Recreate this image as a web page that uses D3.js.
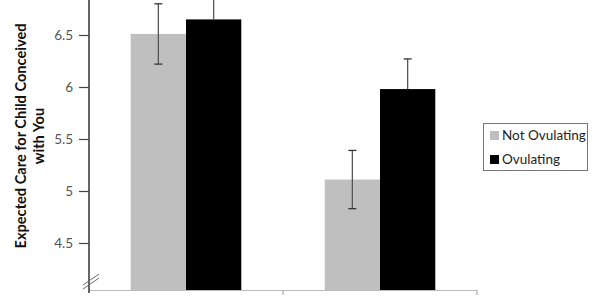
<!DOCTYPE html>
<html><head><meta charset="utf-8">
<script src="https://cdn.jsdelivr.net/npm/d3@7"></script>
<style>html,body{margin:0;padding:0;background:#fff;overflow:hidden}svg{display:block}</style>
</head><body>
<svg id="c" width="600" height="300"></svg>
<script>
const categories = ["Charismatic Man", "Reliable Man"];
const seriesNames = ["Not Ovulating", "Ovulating"];
const notOvulating = [6.51, 5.11];
const ovulating = [6.65, 5.98];
const notOvulatingErr = [0.29, 0.28];
const ovulatingErr = [0.29, 0.29];
const yTicks = [4.5, 5, 5.5, 6, 6.5];
const yTickLabels = ["4.5", "5", "5.5", "6", "6.5"];
const colors = ["#bfbfbf", "#000000"];

const svg = d3.select("#c");
const font = "Lato, 'Open Sans', sans-serif";
const axisX = 89, axisRight = 477, baseY = 290;

const y = d3.scaleLinear().domain([4.5, 6.5]).range([243, 35]);
const x0 = d3.scaleBand().domain(categories).range([axisX, axisRight]).paddingInner(0.43).paddingOuter(0.215);
const x1 = d3.scaleBand().domain(seriesNames).range([0, x0.bandwidth()]).padding(0);

const rows = categories.map((c, i) => ({
  cat: c,
  vals: [
    {s: seriesNames[0], v: notOvulating[i], e: notOvulatingErr[i], full: true},
    {s: seriesNames[1], v: ovulating[i], e: ovulatingErr[i], full: false}
  ]
}));

const g = svg.append("g");
const grp = g.selectAll("g.cat").data(rows).join("g").attr("transform", d => `translate(${x0(d.cat)},0)`);
grp.selectAll("rect").data(d => d.vals).join("rect")
  .attr("x", d => x1(d.s)).attr("width", x1.bandwidth())
  .attr("y", d => y(d.v)).attr("height", d => baseY - y(d.v))
  .attr("fill", (d, i) => colors[i]);

// error bars
grp.selectAll("g.err").data(d => d.vals).join("g").each(function(d) {
  const cx = x1(d.s) + x1.bandwidth() / 2;
  const gg = d3.select(this);
  const lo = d.full ? d.v - d.e : d.v;
  gg.append("line").attr("x1", cx).attr("x2", cx).attr("y1", y(d.v + d.e)).attr("y2", y(lo))
    .attr("stroke", "#555").attr("stroke-width", 1.3);
  gg.append("line").attr("x1", cx - 4).attr("x2", cx + 4).attr("y1", y(d.v + d.e)).attr("y2", y(d.v + d.e))
    .attr("stroke", "#333").attr("stroke-width", 1.3);
  if (d.full) gg.append("line").attr("x1", cx - 4).attr("x2", cx + 4).attr("y1", y(lo)).attr("y2", y(lo))
    .attr("stroke", "#333").attr("stroke-width", 1.3);
});

// x axis
svg.append("line").attr("x1", axisX).attr("x2", axisRight).attr("y1", baseY + 0.5).attr("y2", baseY + 0.5)
  .attr("stroke", "#bbb").attr("stroke-width", 1);
const xBounds = [x0(categories[1]) - x0.step() * x0.paddingInner() / 2, axisRight];
svg.selectAll("line.xt").data(xBounds).join("line")
  .attr("x1", d => d).attr("x2", d => d).attr("y1", baseY).attr("y2", baseY + 5)
  .attr("stroke", "#999").attr("stroke-width", 1);
svg.selectAll("text.xl").data(categories).join("text")
  .attr("x", d => x0(d) + x0.bandwidth() / 2).attr("y", 309)
  .attr("text-anchor", "middle").attr("font-family", font).attr("font-size", 12).attr("font-weight", "bold")
  .attr("fill", "#777").text(d => d);

// y axis
svg.append("line").attr("x1", axisX).attr("x2", axisX).attr("y1", 0).attr("y2", 293)
  .attr("stroke", "#333").attr("stroke-width", 1.5);
const yAxis = d3.axisLeft(y).tickValues(yTicks).tickFormat((d, i) => yTickLabels[i]).tickSize(10).tickPadding(6);
const ya = svg.append("g").attr("transform", `translate(${axisX},0)`).call(yAxis);
ya.select(".domain").remove();
ya.selectAll(".tick line").attr("stroke", "#444").attr("stroke-width", 1.2);
ya.selectAll(".tick text").attr("font-family", font).attr("font-size", 13.5).attr("fill", "#555");

// axis break
[0, 4].forEach(o => {
  svg.append("line").attr("x1", 83).attr("y1", 285 + o).attr("x2", 99).attr("y2", 274 + o)
    .attr("stroke", "#666").attr("stroke-width", 1);
});

// y title
const yt = svg.append("text").attr("transform", "translate(0,136) rotate(-90)")
  .attr("text-anchor", "middle").attr("font-family", font).attr("font-size", 14.6).attr("font-weight", "bold").attr("fill", "#111");
yt.append("tspan").attr("x", 0).attr("y", 26).text("Expected Care for Child Conceived");
yt.append("tspan").attr("x", 0).attr("y", 44).text("with You");

// legend
const lg = svg.append("g").attr("transform", "translate(483,123)");
lg.append("rect").attr("x", 0.5).attr("y", 0.5).attr("width", 104).attr("height", 47)
  .attr("fill", "#fff").attr("stroke", "#777").attr("stroke-width", 1);
seriesNames.forEach((s, i) => {
  lg.append("rect").attr("x", 7).attr("y", 8 + i * 24).attr("width", 9).attr("height", 9).attr("fill", colors[i]);
  lg.append("text").attr("x", 19).attr("y", 17 + i * 24).attr("font-family", font).attr("font-size", 13.5)
    .attr("fill", "#222").text(s);
});
</script>
</body></html>
